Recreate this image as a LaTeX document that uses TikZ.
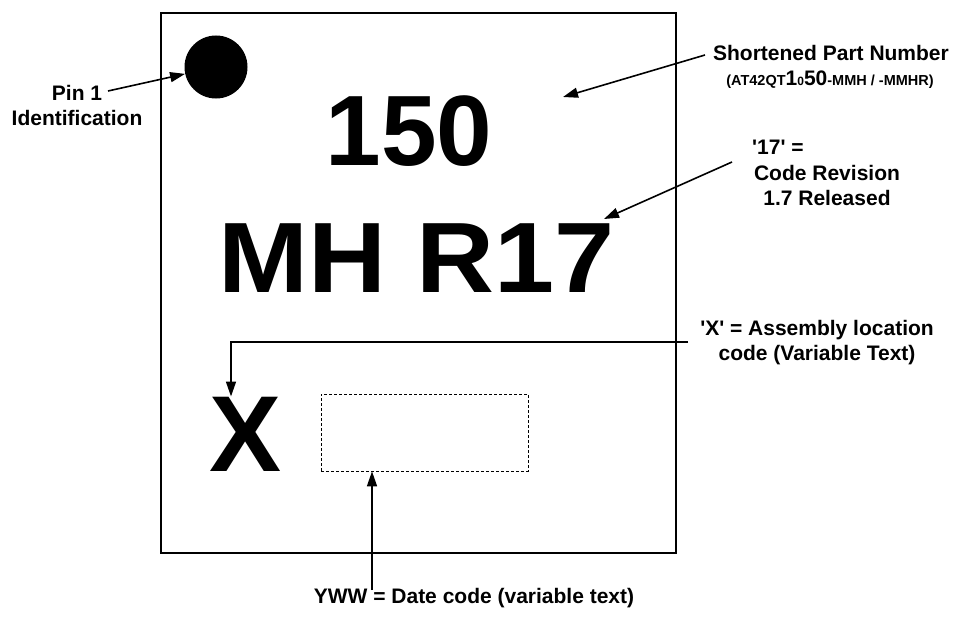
\documentclass[tikz,border=0pt]{standalone}
\usepackage{fontspec}
\setmainfont{Liberation Sans}[Ligatures=TeXOff]
\usetikzlibrary{arrows.meta}
\begin{document}
\begin{tikzpicture}[x=1pt,y=-1pt,
  lbl/.style={font=\fontsize{21}{25}\selectfont\bfseries, align=center, inner sep=0pt},
  big/.style={font=\fontsize{100}{100}\selectfont\bfseries, inner sep=0pt, anchor=base},
  conn/.style={line width=1.6pt, -{Triangle[length=15pt,width=10pt]}},
  outline/.style={draw, line width=1.6pt, inner sep=0pt},
  datebox/.style={draw, line width=0.7pt, dash pattern=on 3pt off 2pt, inner sep=0pt, minimum width=207pt, minimum height=77pt}]
\useasboundingbox (0,0) rectangle (957,626);
% package outline
\node[outline, minimum width=515pt, minimum height=540pt, anchor=north west] (chip) at (160,12) {};
% pin 1 dot
\node[circle, fill, minimum size=63pt, inner sep=0pt] (pin) at (216,67) {};
% big marking text
\node[big] (n150) at (409,165) {150};
\node[big] (nmh) at (417,292) {\scalebox{1.08}[1]{MH R17}};
\node[big, font=\fontsize{108}{108}\selectfont\bfseries] (xlet) at (246,471) {X};
\node[datebox] (date) at (424.5,432.5) {};
% labels
\node[lbl] (pinlbl) at (77,105.5) {Pin 1\\Identification};
\node[lbl, anchor=base] (spn) at (831,60.5) {Shortened Part Number};
\node[inner sep=0pt, anchor=base, font=\bfseries] (spnsub) at (830,85) {{\fontsize{14.5}{16}\selectfont (AT42QT}{\fontsize{21}{21}\selectfont 1}{\fontsize{12}{12}\selectfont 0}{\fontsize{21}{21}\selectfont 50}{\fontsize{14.5}{16}\selectfont -MMH / -MMHR)}};
\node[lbl, anchor=base west] (revA) at (752,154.5) {'17' =};
\node[lbl] (rev) at (827,185) {Code Revision\\1.7 Released};
\node[lbl] (asm) at (817,342.5) {'X' = Assembly location\\code (Variable Text)};
\node[lbl, anchor=base] (datelbl) at (474,603.5) {YWW = Date code (variable text)};
% connector end points
\coordinate (pinA) at (108,91);
\coordinate (spnA) at (705,55);
\coordinate (spnB) at (563,97);
\coordinate (revB) at (732,162);
\coordinate (revT) at (604,219);
\coordinate (asmA) at (688,342);
\coordinate (dateA) at (372,590);
% connectors
\draw[conn] (pinA) -- (pin);
\draw[conn] (spnA) -- (spnB);
\draw[conn] (revB) -- (revT);
\draw[conn] (asmA) -| ([xshift=-15pt]xlet.north);
\draw[conn] (dateA) -- (dateA |- date.south);
\end{tikzpicture}
\end{document}
